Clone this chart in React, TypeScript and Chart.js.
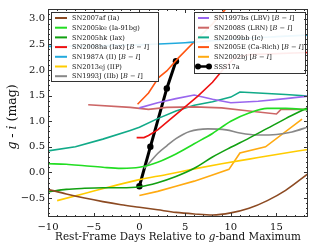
import React, { useEffect, useRef } from 'react';
import { Chart, registerables } from 'chart.js';

Chart.register(...registerables);

// ---------- axis ranges & ticks ----------
const X_MIN = -10;
const X_MAX = 18.45;
const Y_MIN = -0.87;
const Y_MAX = 3.19;
const xTicks = [-10, -5, 0, 5, 10, 15];
const yTicks = [-0.5, 0, 0.5, 1.0, 1.5, 2.0, 2.5, 3.0];

// ---------- series (day, g-i) ----------
const sn2007af: [number, number][] = [[-10, -0.33], [-8, -0.42], [-6, -0.5], [-4, -0.57], [-2, -0.63], [0, -0.68], [2, -0.73], [4, -0.78], [6, -0.81], [8, -0.83], [10, -0.79], [12, -0.7], [14, -0.55], [16, -0.35], [18.5, -0.02]];
const sn2005ke: [number, number][] = [[-10, 0.17], [-8, 0.16], [-6, 0.13], [-4, 0.1], [-2, 0.08], [0, 0.1], [2, 0.2], [4, 0.36], [6, 0.56], [8, 0.76], [10, 1.0], [12, 1.16], [14, 1.25], [16, 1.25], [18.5, 1.22]];
const sn2005hk: [number, number][] = [[-10, -0.38], [-8, -0.33], [-6, -0.31], [-4, -0.3], [-2, -0.3], [0, -0.28], [2, -0.2], [4, -0.08], [6, 0.08], [8, 0.3], [10, 0.49], [12, 0.67], [14, 0.86], [16, 1.05], [18.5, 1.27]];
const sn2008ha: [number, number][] = [[-0.3, 0.68], [0.5, 0.68], [1, 0.72], [2, 0.83], [3.4, 1.04], [5, 1.28], [6.4, 1.49], [8, 1.76], [9.2, 2.02], [10.5, 2.25], [12, 2.3], [18.5, 2.34]];
const sn1987a: [number, number][] = [[-10.5, 2.46], [-5, 2.47], [0, 2.49], [5, 2.53], [10, 2.6], [15, 2.65], [18.5, 2.68]];
const sn2013ej: [number, number][] = [[-9, -0.55], [-6, -0.41], [-3, -0.27], [0, -0.14], [3, -0.04], [6, 0.07], [9, 0.17], [12, 0.26], [15, 0.35], [18.5, 0.45]];
const sn1993j: [number, number][] = [[0.5, 0.08], [1, 0.17], [2, 0.37], [3, 0.52], [4, 0.66], [5.5, 0.8], [7.5, 0.85], [9.5, 0.83], [11, 0.77], [13, 0.73], [15, 0.74], [16.7, 0.79], [18.5, 0.89]];
const sn1997bs: [number, number][] = [[0, 1.26], [2, 1.36], [4, 1.44], [6, 1.51], [8, 1.43], [10, 1.36], [13, 1.39], [16, 1.44], [18.5, 1.49]];
const sn2008s: [number, number][] = [[-5.6, 1.32], [-1, 1.27], [1, 1.23], [3, 1.27], [6, 1.28], [9, 1.26], [12, 1.2], [15, 1.14], [15.5, 1.23], [18.5, 1.23]];
const sn2009bb: [number, number][] = [[-10, 0.42], [-7, 0.5], [-4, 0.65], [-1, 0.82], [0, 0.88], [2, 1.05], [4, 1.2], [6, 1.31], [8, 1.38], [10, 1.47], [11, 1.57], [14, 1.54], [16, 1.52], [18.5, 1.49]];
const sn2005e: [number, number][] = [[-0.2, 1.33], [1, 1.55], [2.1, 1.85], [3, 1.98], [4.3, 2.24], [6, 2.55], [8, 2.9], [10, 3.3]];
const sn2002bj: [number, number][] = [[0, -0.45], [2, -0.37], [4, -0.27], [6, -0.17], [8, -0.05], [9.8, 0.06], [11, 0.38], [13.8, 0.5], [17.8, 1.04]];
const sss17a: [number, number][] = [[0, -0.27], [1.2, 0.5], [3, 1.64], [4, 2.17]];

// ---------- legend labels ----------
const leftNames = ['SN2007af (Ia)', 'SN2005ke (Ia-91bg)', 'SN2005hk (Iax)', 'SN2008ha (Iax)', 'SN1987A (II)', 'SN2013ej (IIP)', 'SN1993J (IIb)'];
const leftBI = [false, false, false, true, true, false, true];
const leftColors = ['#8c4a22', '#22dd22', '#11a011', '#ee1111', '#22aadd', '#ffcc00', '#888888'];
const rightNames = ['SN1997bs (LBV)', 'SN2008S (LRN)', 'SN2009bb (Ic)', 'SN2005E (Ca-Rich)', 'SN2002bj', 'SSS17a'];
const rightBI = [true, true, false, true, true, false];
const rightColors = ['#9966ee', '#cc6666', '#11aa88', '#ff5511', '#ffaa11', '#000000'];

const seriesList = [sn2007af, sn2005ke, sn2005hk, sn2008ha, sn1987a, sn2013ej, sn1993j, sn1997bs, sn2008s, sn2009bb, sn2005e, sn2002bj];
const seriesSmooth = [true, true, true, false, true, true, true, false, false, false, false, false];
const seriesNames = [...leftNames, ...rightNames.slice(0, 5)];
const seriesColors = [...leftColors, ...rightColors.slice(0, 5)];

const FONT = '"DejaVu Serif", "Liberation Serif", serif';

type Part = { t: string; i?: boolean };

function drawRich(ctx: CanvasRenderingContext2D, parts: Part[], x: number, y: number, size: number, draw = true) {
  let cx = x;
  for (const p of parts) {
    ctx.font = `${p.i ? 'italic ' : ''}${size}px ${FONT}`;
    if (draw) ctx.fillText(p.t, cx, y);
    cx += ctx.measureText(p.t).width;
  }
  return cx - x;
}

function labelParts(name: string, bi: boolean): Part[] {
  if (!bi) return [{ t: name }];
  return [{ t: name + ' [' }, { t: 'B', i: true }, { t: ' \u2212 ' }, { t: 'I', i: true }, { t: ']' }];
}

function fmt(v: number, d: number) {
  const s = Math.abs(v).toFixed(d);
  return v < 0 ? '\u2212' + s : s;
}

const framePlugin = {
  id: 'framePlugin',
  afterDraw(chart: any) {
    const ctx: CanvasRenderingContext2D = chart.ctx;
    const a = chart.chartArea;
    const xs = chart.scales.x;
    const ys = chart.scales.y;
    ctx.save();

    // legends
    const drawLegend = (names: string[], bis: boolean[], colors: string[], bx: number, by: number, bw: number, bh: number, lx0: number, lx1: number, marker: number) => {
      ctx.fillStyle = 'rgba(255,255,255,0.92)';
      ctx.fillRect(bx, by, bw, bh);
      ctx.strokeStyle = '#333';
      ctx.lineWidth = 1;
      ctx.strokeRect(bx + 0.5, by + 0.5, bw, bh);
      names.forEach((n, k) => {
        const yy = by + 6 + k * 9.7;
        ctx.strokeStyle = colors[k];
        ctx.lineWidth = k === marker ? 2.5 : 2;
        ctx.beginPath();
        ctx.moveTo(bx + lx0, yy);
        ctx.lineTo(bx + lx1, yy);
        ctx.stroke();
        if (k === marker) {
          ctx.fillStyle = '#000';
          [lx0, lx1].forEach((px) => {
            ctx.beginPath();
            ctx.arc(bx + px, yy, 3, 0, Math.PI * 2);
            ctx.fill();
          });
        }
        ctx.fillStyle = '#111';
        ctx.textBaseline = 'middle';
        ctx.textAlign = 'left';
        drawRich(ctx, labelParts(n, bis[k]), bx + lx1 + 5, yy + 0.5, 6.6);
      });
    };
    drawLegend(leftNames, leftBI, leftColors, a.left + 3, a.top + 3, 107, 69, 4, 16, -1);
    drawLegend(rightNames, rightBI, rightColors, a.left + 146, a.top + 3, 111, 61, 4, 15, 5);

    // frame
    ctx.strokeStyle = '#333';
    ctx.lineWidth = 1;
    ctx.strokeRect(Math.round(a.left) + 0.5, Math.round(a.top) + 0.5, Math.round(a.right - a.left) - 1, Math.round(a.bottom - a.top) - 1);

    // inward ticks on all four sides
    ctx.beginPath();
    for (let d = -10; d <= 18; d++) {
      const px = Math.round(xs.getPixelForValue(d)) + 0.5;
      const len = d % 5 === 0 ? 4 : 2;
      ctx.moveTo(px, a.bottom);
      ctx.lineTo(px, a.bottom - len);
      ctx.moveTo(px, a.top);
      ctx.lineTo(px, a.top + len);
    }
    for (let k = -8; k <= 31; k++) {
      const v = k / 10;
      const py = Math.round(ys.getPixelForValue(v)) + 0.5;
      const len = k % 5 === 0 ? 4 : 2;
      ctx.moveTo(a.left, py);
      ctx.lineTo(a.left + len, py);
      ctx.moveTo(a.right, py);
      ctx.lineTo(a.right - len, py);
    }
    ctx.stroke();

    // axis titles
    ctx.fillStyle = '#111';
    ctx.textBaseline = 'alphabetic';
    ctx.textAlign = 'left';
    const xParts: Part[] = [{ t: 'Rest-Frame Days Relative to ' }, { t: 'g', i: true }, { t: '-band Maximum' }];
    const xw = drawRich(ctx, xParts, 0, 0, 10.4, false);
    drawRich(ctx, xParts, (a.left + a.right) / 2 - xw / 2, 240, 10.4);

    const yParts: Part[] = [{ t: 'g', i: true }, { t: ' - ' }, { t: 'i', i: true }, { t: ' (mag)' }];
    ctx.translate(16, (a.top + a.bottom) / 2 + 4);
    ctx.rotate(-Math.PI / 2);
    const yw = drawRich(ctx, yParts, 0, 0, 12.5, false);
    drawRich(ctx, yParts, -yw / 2, 0, 12.5);
    ctx.restore();
  },
};

export default function App() {
  const ref = useRef<HTMLCanvasElement | null>(null);
  useEffect(() => {
    if (!ref.current) return;
    const datasets: any[] = seriesList.map((s, k) => ({
      label: seriesNames[k],
      data: s.map(([x, y]) => ({ x, y })),
      borderColor: seriesColors[k],
      borderWidth: 1.6,
      pointRadius: 0,
      cubicInterpolationMode: seriesSmooth[k] ? 'monotone' : 'default',
      tension: seriesSmooth[k] ? 0.4 : 0,
      fill: false,
    }));
    datasets.push({
      label: 'SSS17a',
      data: sss17a.map(([x, y]) => ({ x, y })),
      borderColor: '#000',
      backgroundColor: '#000',
      borderWidth: 3,
      pointRadius: 3.2,
      pointBackgroundColor: '#000',
      pointBorderWidth: 0,
      tension: 0,
      fill: false,
    });
    const chart = new Chart(ref.current, {
      type: 'line',
      data: { datasets },
      options: {
        animation: false,
        responsive: false,
        maintainAspectRatio: false,
        layout: { padding: { left: 0, right: 10, top: 3, bottom: 0 } },
        plugins: { legend: { display: false }, tooltip: { enabled: false } },
        scales: {
          x: {
            type: 'linear',
            min: X_MIN,
            max: X_MAX,
            afterFit: (s: any) => { s.height = 29; },
            afterBuildTicks: (s: any) => { s.ticks = xTicks.map((v) => ({ value: v })); },
            grid: { display: false, drawTicks: false },
            border: { display: false },
            ticks: {
              padding: 4,
              maxRotation: 0,
              autoSkip: false,
              color: '#111',
              font: { family: FONT, size: 10 },
              callback: (v: any) => fmt(Number(v), 0),
            },
          },
          y: {
            type: 'linear',
            min: Y_MIN,
            max: Y_MAX,
            afterFit: (s: any) => { s.width = 48; },
            afterBuildTicks: (s: any) => { s.ticks = yTicks.map((v) => ({ value: v })); },
            grid: { display: false, drawTicks: false },
            border: { display: false },
            ticks: {
              padding: 3,
              autoSkip: false,
              color: '#111',
              font: { family: FONT, size: 10 },
              callback: (v: any) => fmt(Number(v), 1),
            },
          },
        },
      },
      plugins: [framePlugin],
    });
    return () => chart.destroy();
  }, []);
  return (
    <div style={{ position: 'absolute', left: 0, top: 0, width: 318, height: 246, background: '#fff' }}>
      <canvas ref={ref} width={318} height={246} style={{ width: 318, height: 246 }} />
    </div>
  );
}
